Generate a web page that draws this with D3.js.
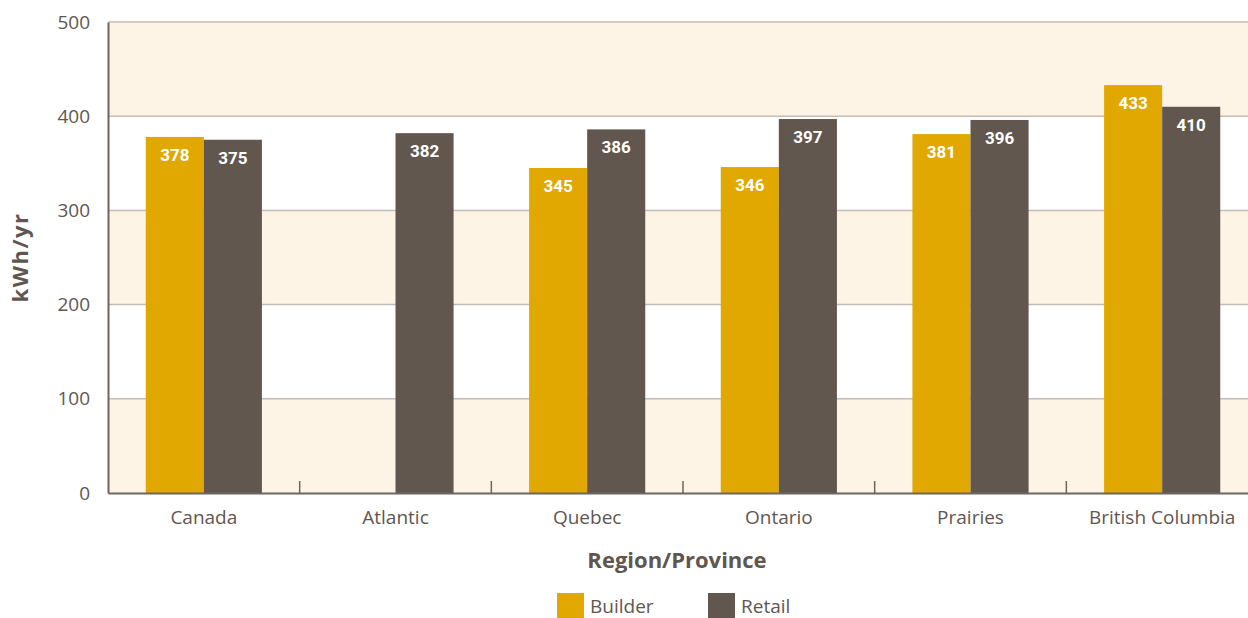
<!DOCTYPE html>
<html><head><meta charset="utf-8">
<script src="https://cdn.jsdelivr.net/npm/d3@7"></script>
<style>body{margin:0;background:#fff;} svg{display:block;}</style>
</head><body>
<svg id="c" width="1248" height="618"></svg>
<script>
const categories = ["Canada","Atlantic","Quebec","Ontario","Prairies","British Columbia"];
const seriesNames = ["Builder","Retail"];
const builder = [378, null, 345, 346, 381, 433];
const retail = [375, 382, 386, 397, 396, 410];
const yTicks = [0,100,200,300,400,500];
const colors = {Builder:"#e0a800", Retail:"#62574e"};

const FONT = "'Open Sans', Lato, sans-serif";
const TXT = "#5f5650";
const svg = d3.select("#c");
const m = {left:108, top:22, bottom:493, right:1258};
const x = d3.scaleBand().domain(categories).range([m.left, m.right]).paddingInner(0).paddingOuter(0);
const xs = d3.scaleBand().domain(seriesNames).range([0, x.bandwidth()]).paddingOuter(0.65).paddingInner(0);
const y = d3.scaleLinear().domain([0,500]).range([m.bottom, m.top]);

// background bands
const bands = [[0,100],[200,300],[400,500]];
svg.selectAll("rect.band").data(bands).enter().append("rect")
  .attr("x", m.left).attr("width", m.right-m.left)
  .attr("y", d=>y(d[1])).attr("height", d=>y(d[0])-y(d[1]))
  .attr("fill","#fdf4e5");
// grid lines
svg.selectAll("line.grid").data(yTicks.filter(t=>t>0)).enter().append("line")
  .attr("x1", m.left).attr("x2", m.right).attr("y1", d=>y(d)).attr("y2", d=>y(d))
  .attr("stroke","#c4bcb5").attr("stroke-width",1.5);

// bars
const data = [];
categories.forEach((c,i)=>{
  data.push({c, s:"Builder", v:builder[i]});
  data.push({c, s:"Retail", v:retail[i]});
});
const bd = data.filter(d=>d.v!=null);
svg.selectAll("rect.bar").data(bd).enter().append("rect")
  .attr("x", d=>x(d.c)+xs(d.s)).attr("width", xs.bandwidth())
  .attr("y", d=>y(d.v)).attr("height", d=>y(0)-y(d.v))
  .attr("fill", d=>colors[d.s]);
svg.selectAll("text.val").data(bd).enter().append("text")
  .attr("x", d=>x(d.c)+xs(d.s)+xs.bandwidth()/2)
  .attr("y", d=>y(d.v)+24)
  .attr("text-anchor","middle").attr("fill","#fff")
  .attr("font-family","Roboto, 'Liberation Sans Narrow', sans-serif").attr("font-weight","bold")
  .attr("font-size",17).text(d=>d.v);

// y axis
const yAxis = d3.axisLeft(y).tickValues(yTicks).tickSize(0).tickPadding(18);
const gy = svg.append("g").attr("transform",`translate(${m.left},0)`).call(yAxis);
gy.select(".domain").attr("stroke","#6d6560").attr("stroke-width",2);
gy.selectAll("text").attr("font-family",FONT).attr("font-size",19).attr("fill",TXT).attr("dy","0.32em");

// x axis
const xAxis = d3.axisBottom(x).tickSize(0).tickPadding(18);
const gx = svg.append("g").attr("transform",`translate(0,${m.bottom})`).call(xAxis);
gx.select(".domain").attr("stroke","#6d6560").attr("stroke-width",2);
gx.selectAll("text").attr("font-family",FONT).attr("font-size",19).attr("fill",TXT);
// category separator ticks
svg.selectAll("line.sep").data(categories.slice(1)).enter().append("line")
  .attr("x1", d=>x(d)).attr("x2", d=>x(d)).attr("y1", m.bottom-12).attr("y2", m.bottom)
  .attr("stroke","#6d6560").attr("stroke-width",1.5);

// titles
svg.append("text").attr("transform",`translate(28,${(m.top+m.bottom)/2}) rotate(-90)`)
  .attr("text-anchor","middle").attr("font-family",FONT).attr("font-weight","bold")
  .attr("font-size",22).attr("letter-spacing",1.5).attr("fill",TXT).text("kWh/yr");
svg.append("text").attr("x",677).attr("y",568).attr("text-anchor","middle")
  .attr("font-family",FONT).attr("font-weight","bold")
  .attr("font-size",22).attr("fill",TXT).text("Region/Province");

// legend
const legX = [557, 708];
const lg = svg.selectAll("g.leg").data(seriesNames).enter().append("g")
  .attr("transform",(d,i)=>`translate(${legX[i]},593)`);
lg.append("rect").attr("width",27).attr("height",25).attr("fill",d=>colors[d]);
lg.append("text").attr("x",33).attr("y",20).attr("font-family",FONT)
  .attr("font-size",19).attr("fill",TXT).text(d=>d);
</script>
</body></html>
